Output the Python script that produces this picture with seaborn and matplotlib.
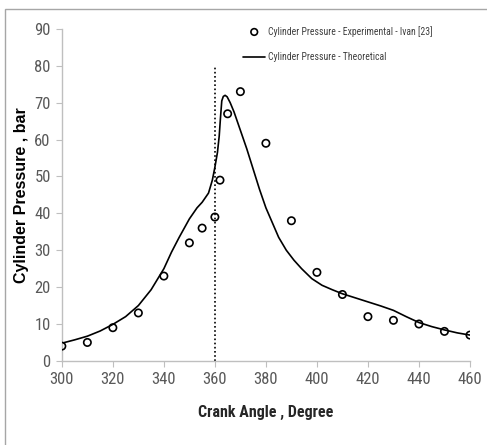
import matplotlib
matplotlib.use("Agg")
import matplotlib.pyplot as plt
import seaborn as sns
import pandas as pd
from matplotlib.patches import Rectangle

# experimental points (Ivan [23])
exp_angle = [300, 310, 320, 330, 340, 350, 355, 360, 362, 365, 370, 380, 390, 400, 410, 420, 430, 440, 450, 460]
exp_pressure = [4, 5, 9, 13, 23, 32, 36, 39, 49, 67, 73, 59, 38, 24, 18, 12, 11, 10, 8, 7]

# theoretical curve
th_angle = [300, 305, 310, 315, 320, 325, 330, 335, 340, 343, 346, 350, 353, 355, 357.5, 359, 360,
            361, 361.7, 362.2, 362.7, 363.3, 364, 364.8, 366, 367.5, 370, 372.5, 375, 377.5, 380,
            382.5, 385, 388, 391, 394, 398, 402, 406, 410, 415, 420, 425, 430, 435, 440, 445, 450,
            455, 460]
th_pressure = [4.8, 5.7, 6.7, 8.1, 9.9, 12.0, 15.0, 19.3, 25.0, 29.5, 33.5, 38.5, 41.5, 43.0, 45.5, 49, 52.5,
               56.5, 61, 66, 70.5, 71.7, 72, 71.6, 70, 67.5, 62.5, 57.5, 52, 46.5, 41.5,
               37.5, 33.5, 30, 27.3, 25, 22.3, 20.5, 19.3, 18.2, 17.1, 16, 14.9, 13.7, 12, 10.4, 9.3, 8.4,
               7.6, 7.0]

tdc = [360, 360]
tdc_y = [0, 80]

sns.set_style("ticks")
plt.rcParams["font.family"] = ["Liberation Sans Narrow", "Roboto Condensed", "DejaVu Sans"]
plt.rcParams["font.stretch"] = "condensed"

fig = plt.figure(figsize=(4.87, 4.45), dpi=100)
ax = fig.add_axes([0.127, 0.189, 0.838, 0.746])
fig.patches.append(Rectangle((0.0103, -0.1), 1.2, 1.08, transform=fig.transFigure,
                             fill=False, edgecolor="#a6a6a6", linewidth=1))

df_exp = pd.DataFrame({"angle": exp_angle, "p": exp_pressure})
df_th = pd.DataFrame({"angle": th_angle, "p": th_pressure})

sns.lineplot(data=df_th, x="angle", y="p", ax=ax, color="black", linewidth=1.2,
             sort=False, label="Cylinder Pressure - Theoretical")
sns.scatterplot(data=df_exp, x="angle", y="p", ax=ax, marker="o", s=28,
                facecolor="none", edgecolor="black", linewidth=1.2,
                label="Cylinder Pressure - Experimental - Ivan [23]", zorder=3)
ax.plot(tdc, tdc_y, color="black", linestyle=(0, (1, 1.5)), linewidth=1.2)

ax.set_xlim(300, 460)
ax.set_ylim(0, 90)
ax.set_xticks(range(300, 461, 20))
ax.set_yticks(range(0, 91, 10))
for s in ["top", "right"]:
    ax.spines[s].set_visible(False)
for s in ["left", "bottom"]:
    ax.spines[s].set_color("#bfbfbf")
    ax.spines[s].set_linewidth(1)
ax.tick_params(colors="#bfbfbf", labelcolor="#595959", labelsize=12, length=4, pad=4)

ax.set_xlabel("Crank Angle , Degree", fontsize=11.5, fontweight="bold", color="#262626", labelpad=13)
ax.set_ylabel("Cylinder Pressure , bar", fontsize=11.5, fontweight="bold",
              family=["Liberation Sans", "DejaVu Sans"], stretch="normal", color="black", labelpad=4)

h, l = ax.get_legend_handles_labels()
ax.legend(h[::-1], l[::-1], loc="upper left", bbox_to_anchor=(0.444, 1.01), frameon=False,
          fontsize=7, labelcolor="#404040", handlelength=2.3, handletextpad=0.3,
          labelspacing=1.6, borderpad=0, borderaxespad=0, markerscale=0.9)

fig.savefig("out.png", dpi=100)
